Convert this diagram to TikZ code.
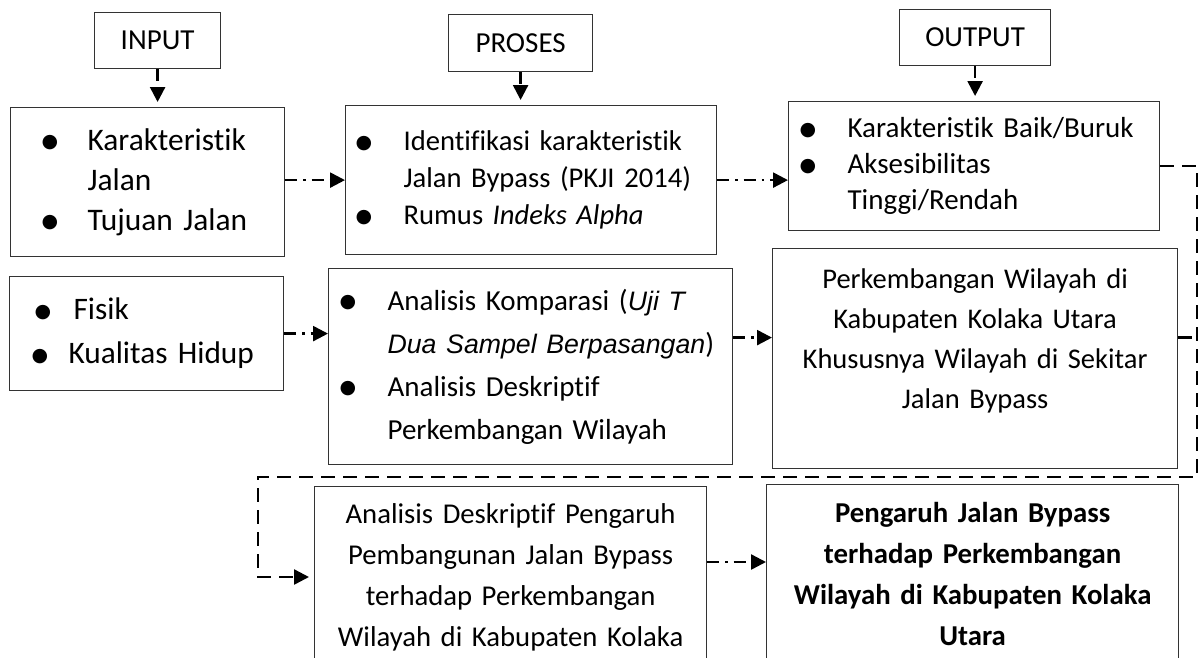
\documentclass[tikz,border=0pt]{standalone}
\usepackage{fontspec}
\setmainfont{Carlito}[Ligatures=NoCommon]
\newfontfamily\symfont{DejaVu Sans}
\newfontfamily\arialfont{Liberation Sans}
\usetikzlibrary{arrows.meta}

\newcommand{\bul}[2]{\hspace*{#1}\makebox[\dimexpr#2-#1\relax][l]{\raisebox{2.5pt}{\symfont\fontsize{19}{19}\selectfont ●}}}
\newcommand{\cont}[1]{\hspace*{#1}}
\newcommand{\ital}[1]{{\arialfont\itshape\fontsize{26.7}{26.7}\selectfont #1}}

\begin{document}
\begin{tikzpicture}[x=1pt, y=-1pt]
        \tikzstyle{headbox}=[draw=black!80, line width=1.2pt, minimum height=56pt, anchor=north west, inner sep=0pt, font=\fontsize{29}{40}\selectfont]
        \tikzstyle{listbox}=[draw=black!80, line width=1.2pt, anchor=north west, inner sep=0pt, align=left]
        \tikzstyle{plainbox}=[draw=black!80, line width=1.2pt, anchor=north west, inner sep=0pt, align=center]
        \tikzstyle{flow}=[-{Triangle[length=15pt,width=15pt]}, line width=2.5pt, dash pattern=on 12pt off 6pt on 2.5pt off 6pt]
        \tikzstyle{back}=[line width=2.5pt, dash pattern=on 14pt off 8pt]

        \useasboundingbox (0,0) rectangle (1203,657);
        \clip (0,0) rectangle (1203,657);
        \fill[white] (0,0) rectangle (1203,657);

        \node[headbox, minimum width=126pt] (In_0) at (94,12) {INPUT};
        \node[headbox, minimum width=144pt, minimum height=57pt] (Pr_0) at (448,14) {PROSES};
        \node[headbox, minimum width=151pt] (Out_0) at (899,9) {OUTPUT};

        \node[listbox, text width=274pt, minimum height=149pt, font=\fontsize{31.4}{40}\selectfont] (In_1) at (10,107)
            {\bul{31pt}{77pt}Karakteristik\\ \cont{77pt}Jalan\\ \bul{31pt}{77pt}Tujuan Jalan};
        \node[listbox, text width=371pt, minimum height=149pt, font=\fontsize{28.6}{37}\selectfont] (Pr_1) at (345,105)
            {\bul{10pt}{58pt}Identifikasi karakteristik\\ \cont{58pt}Jalan Bypass (PKJI 2014)\\ \bul{10pt}{58pt}Rumus \textit{Indeks Alpha}};
        \node[listbox, text width=371pt, minimum height=129pt, font=\fontsize{29}{36}\selectfont] (Out_1) at (788,101)
            {\bul{11pt}{59pt}Karakteristik Baik/Buruk\\ \bul{11pt}{59pt}Aksesibilitas\\ \cont{59pt}Tinggi/Rendah};

        \node[listbox, text width=274pt, minimum height=114pt, font=\fontsize{31.3}{44}\selectfont] (In_2) at (9,276)
            {\bul{25pt}{64pt}Fisik\\ \bul{22pt}{59pt}Kualitas Hidup};
        \node[listbox, text width=404pt, minimum height=196pt, font=\fontsize{29}{43}\selectfont] (Pr_2) at (328,268)
            {\bul{11pt}{59pt}Analisis Komparasi (\ital{Uji T}\\ \cont{59pt}\ital{Dua Sampel Berpasangan})\\ \bul{11pt}{59pt}Analisis Deskriptif\\ \cont{59pt}Perkembangan Wilayah};
        \node[plainbox, text width=405pt, minimum height=220pt, font=\fontsize{28.5}{40}\selectfont] (Out_2) at (772,248)
            {Perkembangan Wilayah di\\Kabupaten Kolaka Utara\\Khususnya Wilayah di Sekitar\\Jalan Bypass\\ \mbox{}};

        \node[plainbox, text width=392pt, inner ysep=17pt, font=\fontsize{28.7}{41}\selectfont] (Bt_1) at (314,486)
            {Analisis Deskriptif Pengaruh\\Pembangunan Jalan Bypass\\terhadap Perkembangan\\Wilayah di Kabupaten Kolaka\\ \mbox{}\\ \mbox{}};
        \node[plainbox, text width=412pt, inner ysep=18pt, font=\bfseries\fontsize{28.8}{41}\selectfont] (Bt_2) at (766,484)
            {Pengaruh Jalan Bypass\\terhadap Perkembangan\\Wilayah di Kabupaten Kolaka\\Utara\\ \mbox{}\\ \mbox{}};

        \draw[flow, shorten >=5pt] (In_0.south) -- (In_0.south |- In_1.north);
        \draw[flow, shorten >=5pt] (Pr_0.south) -- (Pr_0.south |- Pr_1.north);
        \draw[flow, shorten >=5pt] (Out_0.south) -- (Out_0.south |- Out_1.north);

        \draw[flow] (Pr_1.west -| In_1.east) -- (Pr_1.west);
        \draw[flow] (Pr_1.east) -- (Pr_1.east -| Out_1.west);
        \draw[flow] (In_2.east) -- (In_2.east -| Pr_2.west);
        \coordinate (P_2) at ([yshift=29pt]Pr_2.east);
        \draw[flow] (P_2) -- (P_2 -| Out_2.west);
        \coordinate (B_1) at ([yshift=-76pt]Bt_1.north east);
        \draw[flow] (B_1) -- (B_1 -| Bt_2.west);

        \coordinate (L_1) at (1197,477);
        \coordinate (L_2) at (258,577);
        \coordinate (S_1) at ([yshift=21pt]Out_2.east);
        \draw[back, -{Triangle[length=15pt,width=15pt]}, shorten >=5pt] (Out_1.east) -| (L_1) -| (L_2) -- (L_2 -| Bt_1.west);
        \draw[back] (S_1) -- (S_1 -| L_1);
    \end{tikzpicture}
\end{document}
